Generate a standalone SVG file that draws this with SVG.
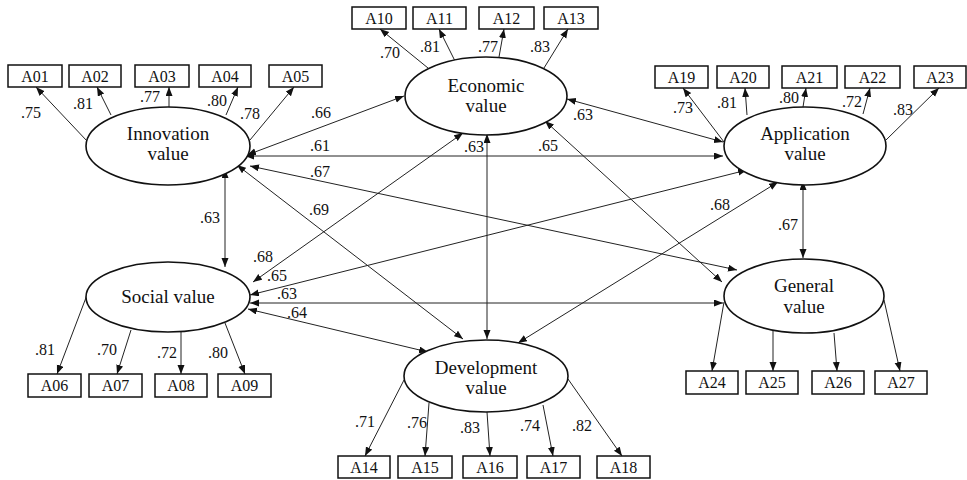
<svg xmlns="http://www.w3.org/2000/svg" width="967" height="480" viewBox="0 0 967 480">
<style>
.bg{fill:#fff}
.lat{fill:#fff;stroke:#111;stroke-width:1.6}
.box{fill:#fff;stroke:#111;stroke-width:1.5}
text{font-family:'Liberation Serif','Times New Roman',Times,'DejaVu Serif',serif;fill:#111;text-anchor:middle}
.bt{font-size:16px}
.lt{font-size:19px}
.ct{font-size:16px}
.ld{stroke:#222;stroke-width:1;fill:none;marker-end:url(#ah)}
.cv{stroke:#222;stroke-width:1;fill:none;marker-start:url(#ah);marker-end:url(#ah)}
</style>
<defs>
<marker id="ah" markerUnits="userSpaceOnUse" markerWidth="10" markerHeight="8" refX="9" refY="3.5" orient="auto-start-reverse" viewBox="0 0 10 8">
<path d="M0,0 L9,3.5 L0,7 z" fill="#111"/>
</marker>
</defs>
<rect class="bg" x="0" y="0" width="967" height="480"/>

<g id="connectors">
<line class="ld" x1="87" y1="141" x2="36" y2="87"/>
<line class="ld" x1="111" y1="115" x2="97" y2="87"/>
<line class="ld" x1="169" y1="107" x2="169" y2="87"/>
<line class="ld" x1="226" y1="115" x2="238" y2="87"/>
<line class="ld" x1="250" y1="140" x2="294" y2="87"/>
<line class="ld" x1="428" y1="68" x2="380" y2="29"/>
<line class="ld" x1="455" y1="61" x2="439" y2="29"/>
<line class="ld" x1="499" y1="57" x2="504" y2="29"/>
<line class="ld" x1="544" y1="68" x2="568" y2="29"/>
<line class="ld" x1="724" y1="142" x2="683" y2="88"/>
<line class="ld" x1="747" y1="115" x2="745" y2="88"/>
<line class="ld" x1="803" y1="107" x2="806" y2="88"/>
<line class="ld" x1="863" y1="114" x2="870" y2="88"/>
<line class="ld" x1="886" y1="140" x2="939" y2="88"/>
<line class="ld" x1="87" y1="295" x2="57" y2="374"/>
<line class="ld" x1="131" y1="330" x2="117" y2="374"/>
<line class="ld" x1="181" y1="332" x2="181" y2="374"/>
<line class="ld" x1="225" y1="323" x2="245" y2="374"/>
<line class="ld" x1="404" y1="380" x2="365" y2="456"/>
<line class="ld" x1="429" y1="403" x2="425" y2="456"/>
<line class="ld" x1="487" y1="412" x2="490" y2="456"/>
<line class="ld" x1="543" y1="405" x2="553" y2="456"/>
<line class="ld" x1="568" y1="379" x2="622" y2="456"/>
<line class="ld" x1="724" y1="302" x2="712" y2="371"/>
<line class="ld" x1="773" y1="330" x2="773" y2="371"/>
<line class="ld" x1="834" y1="333" x2="837" y2="371"/>
<line class="ld" x1="884" y1="300" x2="900" y2="371"/>
<line class="cv" x1="247" y1="155" x2="404" y2="96"/>
<line class="cv" x1="245" y1="156" x2="723" y2="156"/>
<line class="cv" x1="250" y1="166" x2="737" y2="270"/>
<line class="cv" x1="237" y1="165" x2="463" y2="339"/>
<line class="cv" x1="225" y1="169" x2="225" y2="267"/>
<line class="cv" x1="567" y1="99" x2="723" y2="142"/>
<line class="cv" x1="487" y1="134" x2="487" y2="339"/>
<line class="cv" x1="545" y1="121" x2="722" y2="282"/>
<line class="cv" x1="463" y1="133" x2="253" y2="282"/>
<line class="cv" x1="747" y1="170" x2="250" y2="295"/>
<line class="cv" x1="778" y1="182" x2="518" y2="343"/>
<line class="cv" x1="803" y1="181" x2="803" y2="258"/>
<line class="cv" x1="250" y1="303" x2="723" y2="303"/>
<line class="cv" x1="248" y1="309" x2="428" y2="352"/>
</g>

<g id="coef-labels">
<text class="ct" x="31" y="118">.75</text>
<text class="ct" x="83" y="109">.81</text>
<text class="ct" x="150" y="102">.77</text>
<text class="ct" x="217" y="106">.80</text>
<text class="ct" x="250" y="119">.78</text>
<text class="ct" x="390" y="58">.70</text>
<text class="ct" x="430" y="52">.81</text>
<text class="ct" x="488" y="52">.77</text>
<text class="ct" x="540" y="52">.83</text>
<text class="ct" x="683" y="113">.73</text>
<text class="ct" x="727" y="108">.81</text>
<text class="ct" x="789" y="103">.80</text>
<text class="ct" x="852" y="107">.72</text>
<text class="ct" x="903" y="115">.83</text>
<text class="ct" x="45" y="355">.81</text>
<text class="ct" x="107" y="355">.70</text>
<text class="ct" x="167" y="358">.72</text>
<text class="ct" x="218" y="358">.80</text>
<text class="ct" x="365" y="427">.71</text>
<text class="ct" x="417" y="428">.76</text>
<text class="ct" x="470" y="433">.83</text>
<text class="ct" x="530" y="431">.74</text>
<text class="ct" x="582" y="431">.82</text>
<text class="ct" x="321" y="118">.66</text>
<text class="ct" x="320" y="151">.61</text>
<text class="ct" x="320" y="177">.67</text>
<text class="ct" x="319" y="215">.69</text>
<text class="ct" x="210" y="223">.63</text>
<text class="ct" x="583" y="120">.63</text>
<text class="ct" x="474" y="152">.63</text>
<text class="ct" x="548" y="151">.65</text>
<text class="ct" x="263" y="262">.68</text>
<text class="ct" x="277" y="281">.65</text>
<text class="ct" x="720" y="210">.68</text>
<text class="ct" x="788" y="230">.67</text>
<text class="ct" x="287" y="299">.63</text>
<text class="ct" x="297" y="318">.64</text>
</g>

<g id="innovation"><ellipse class="lat" cx="168" cy="146" rx="82" ry="39"/><text class="lt" x="168" y="140">Innovation</text><text class="lt" x="168" y="160">value</text></g>
<g id="economic"><ellipse class="lat" cx="486" cy="96" rx="81" ry="39"/><text class="lt" x="486" y="92">Economic</text><text class="lt" x="486" y="112">value</text></g>
<g id="application"><ellipse class="lat" cx="805" cy="146" rx="81" ry="39"/><text class="lt" x="805" y="140">Application</text><text class="lt" x="805" y="160">value</text></g>
<g id="social"><ellipse class="lat" cx="168" cy="297" rx="82" ry="35"/><text class="lt" x="168" y="303">Social value</text></g>
<g id="development"><ellipse class="lat" cx="486" cy="376" rx="82" ry="36"/><text class="lt" x="486" y="374">Development</text><text class="lt" x="486" y="394">value</text></g>
<g id="general"><ellipse class="lat" cx="804" cy="296" rx="80" ry="37"/><text class="lt" x="804" y="292">General</text><text class="lt" x="804" y="313">value</text></g>

<g id="A01"><rect class="box" x="8" y="65" width="54" height="22"/><text class="bt" x="35" y="82">A01</text></g>
<g id="A02"><rect class="box" x="69" y="65" width="52" height="22"/><text class="bt" x="95" y="82">A02</text></g>
<g id="A03"><rect class="box" x="135" y="65" width="54" height="22"/><text class="bt" x="162" y="82">A03</text></g>
<g id="A04"><rect class="box" x="199" y="65" width="52" height="22"/><text class="bt" x="225" y="82">A04</text></g>
<g id="A05"><rect class="box" x="269" y="65" width="53" height="22"/><text class="bt" x="295.500" y="82">A05</text></g>
<g id="A10"><rect class="box" x="352" y="7" width="54" height="22"/><text class="bt" x="379" y="24">A10</text></g>
<g id="A11"><rect class="box" x="413" y="7" width="53" height="22"/><text class="bt" x="439.500" y="24">A11</text></g>
<g id="A12"><rect class="box" x="479" y="7" width="55" height="22"/><text class="bt" x="506.500" y="24">A12</text></g>
<g id="A13"><rect class="box" x="544" y="7" width="54" height="22"/><text class="bt" x="571" y="24">A13</text></g>
<g id="A19"><rect class="box" x="655" y="66" width="53" height="22"/><text class="bt" x="681.500" y="83">A19</text></g>
<g id="A20"><rect class="box" x="717" y="66" width="52" height="22"/><text class="bt" x="743" y="83">A20</text></g>
<g id="A21"><rect class="box" x="782" y="66" width="55" height="22"/><text class="bt" x="809.500" y="83">A21</text></g>
<g id="A22"><rect class="box" x="845" y="66" width="55" height="22"/><text class="bt" x="872.500" y="83">A22</text></g>
<g id="A23"><rect class="box" x="914" y="66" width="52" height="22"/><text class="bt" x="940" y="83">A23</text></g>
<g id="A06"><rect class="box" x="28" y="374" width="53" height="23"/><text class="bt" x="54.500" y="391">A06</text></g>
<g id="A07"><rect class="box" x="89" y="374" width="53" height="23"/><text class="bt" x="115.500" y="391">A07</text></g>
<g id="A08"><rect class="box" x="155" y="374" width="52" height="23"/><text class="bt" x="181" y="391">A08</text></g>
<g id="A09"><rect class="box" x="218" y="374" width="53" height="23"/><text class="bt" x="244.500" y="391">A09</text></g>
<g id="A14"><rect class="box" x="338" y="456" width="52" height="22"/><text class="bt" x="364" y="473">A14</text></g>
<g id="A15"><rect class="box" x="398" y="456" width="54" height="22"/><text class="bt" x="425" y="473">A15</text></g>
<g id="A16"><rect class="box" x="463" y="456" width="54" height="22"/><text class="bt" x="490" y="473">A16</text></g>
<g id="A17"><rect class="box" x="527" y="456" width="53" height="22"/><text class="bt" x="553.500" y="473">A17</text></g>
<g id="A18"><rect class="box" x="597" y="456" width="53" height="22"/><text class="bt" x="623.500" y="473">A18</text></g>
<g id="A24"><rect class="box" x="686" y="371" width="52" height="23"/><text class="bt" x="712" y="388">A24</text></g>
<g id="A25"><rect class="box" x="746" y="371" width="52" height="23"/><text class="bt" x="772" y="388">A25</text></g>
<g id="A26"><rect class="box" x="812" y="371" width="52" height="23"/><text class="bt" x="838" y="388">A26</text></g>
<g id="A27"><rect class="box" x="875" y="371" width="52" height="23"/><text class="bt" x="901" y="388">A27</text></g>
</svg>
